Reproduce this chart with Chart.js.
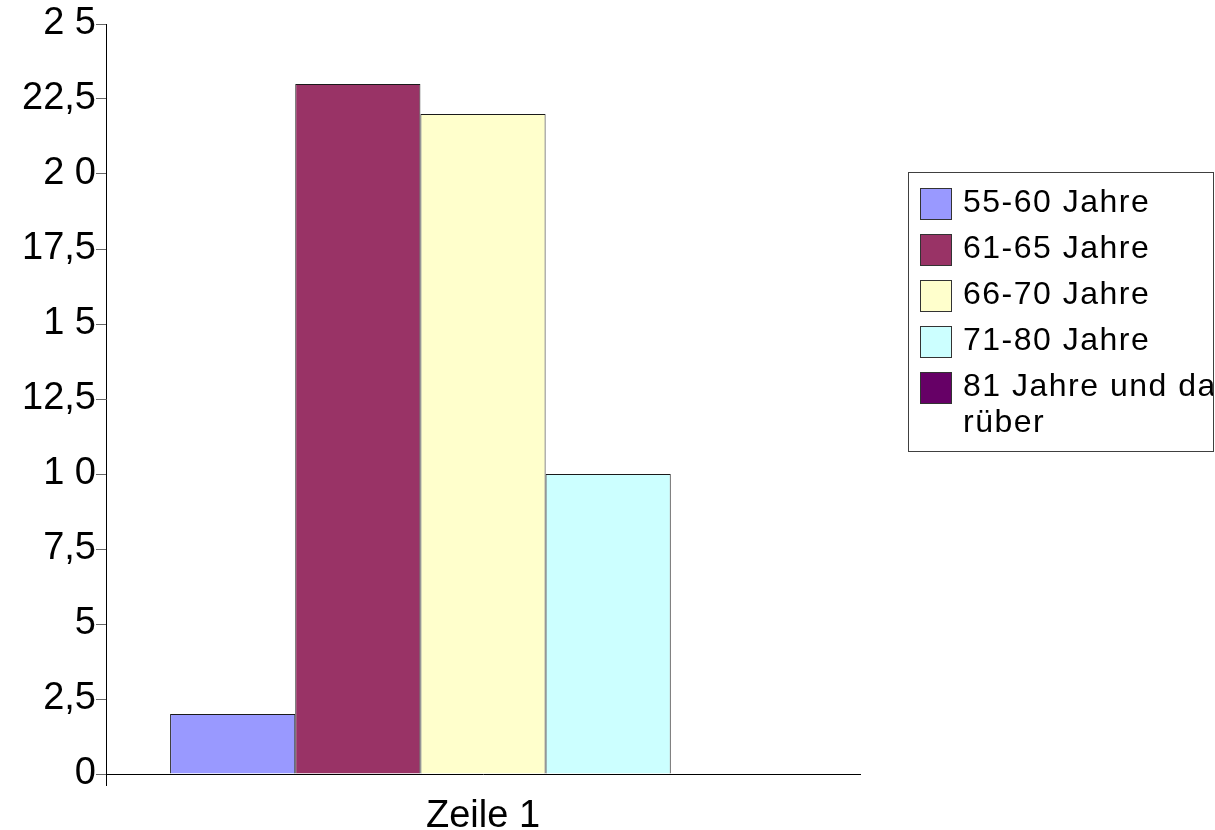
<!DOCTYPE html>
<html>
<head>
<meta charset="utf-8">
<script src="https://cdn.jsdelivr.net/npm/chart.js@4/dist/chart.umd.min.js"></script>
<style>
  html, body { margin: 0; padding: 0; background: #fff; }
  #wrap { width: 1215px; height: 830px; position: relative; }
</style>
</head>
<body>
<div id="wrap"><canvas id="c" width="1215" height="830"></canvas></div>
<script>
// ---- data ----
const categories = ["Zeile 1"];
const seriesNames = ["55-60 Jahre", "61-65 Jahre", "66-70 Jahre", "71-80 Jahre", "81 Jahre und darüber"];
const seriesValues = [[2], [23], [22], [10], [0]];
const seriesColors = ["#9999ff", "#993366", "#ffffcc", "#ccffff", "#660066"];
const yTickValues = [0, 2.5, 5, 7.5, 10, 12.5, 15, 17.5, 20, 22.5, 25];
const yTickLabels = ["0", "2,5", "5", "7,5", "1 0", "12,5", "1 5", "17,5", "2 0", "22,5", "2 5"];

const FONT = "'Liberation Sans', Arial, sans-serif";

const legendPlugin = {
  id: 'boxLegend',
  afterDraw(chart) {
    const ctx = chart.ctx;
    const bx = 908, by = 172, bw = 305, bh = 279;
    ctx.save();
    ctx.font = '32px ' + FONT;
    if ('letterSpacing' in ctx) ctx.letterSpacing = '1.5px';
    ctx.textBaseline = 'middle';
    const textX = 963;
    const maxW = bx + bw - textX + 8;
    let rowY = 203;
    const lineH = 36;
    ctx.beginPath();
    ctx.rect(bx, by, bw, bh);
    ctx.clip();
    chart.data.datasets.forEach((ds, i) => {
      ctx.fillStyle = ds.backgroundColor;
      ctx.fillRect(920, rowY - 15, 31, 31);
      ctx.strokeStyle = '#333';
      ctx.lineWidth = 1;
      ctx.strokeRect(920.5, rowY - 14.5, 31, 31);
      const words = [];
      let cur = '';
      for (const ch of ds.label) {
        if (ctx.measureText(cur + ch).width > maxW && cur.length) {
          words.push(cur);
          cur = ch;
        } else cur += ch;
      }
      words.push(cur);
      ctx.fillStyle = '#000';
      words.forEach((ln, j) => ctx.fillText(ln, textX, rowY + j * lineH));
      rowY += 46;
    });
    ctx.restore();
    ctx.save();
    ctx.strokeStyle = '#404040';
    ctx.lineWidth = 1;
    ctx.strokeRect(bx + 0.5, by + 0.5, bw, bh);
    ctx.restore();
  }
};

new Chart(document.getElementById('c'), {
  type: 'bar',
  data: {
    labels: categories,
    datasets: seriesNames.map((n, i) => ({
      label: n,
      data: seriesValues[i],
      backgroundColor: seriesColors[i],
      borderColor: '#1a1a1a',
      borderWidth: 1,
      categoryPercentage: 0.83,
      barPercentage: 1.0
    }))
  },
  options: {
    responsive: false,
    animation: false,
    layout: { padding: { top: 24, right: 355, left: 0, bottom: 0 } },
    plugins: { legend: { display: false }, tooltip: { enabled: false } },
    scales: {
      x: {
        offset: true,
        grid: {
          offset: true,
          drawOnChartArea: false,
          drawTicks: true,
          tickLength: 12,
          color: (c) => c.index === 0 ? '#000' : 'rgba(0,0,0,0)'
        },
        border: { display: true, color: '#000', width: 1 },
        ticks: { color: '#000', font: { family: FONT, size: 38 }, padding: 8 },
        afterFit(s) { s.height = 56; }
      },
      y: {
        min: 0, max: 25,
        afterBuildTicks(s) { s.ticks = yTickValues.map(v => ({ value: v })); },
        grid: { drawOnChartArea: false, drawTicks: true, tickLength: 10, color: '#666' },
        border: { display: true, color: '#000', width: 1 },
        ticks: {
          color: '#000',
          font: { family: FONT, size: 38 },
          padding: 0,
          callback: (v) => { const k = yTickValues.indexOf(v); return k >= 0 ? yTickLabels[k] : ''; }
        },
        afterFit(s) { s.width = 106; }
      }
    }
  },
  plugins: [legendPlugin]
});
</script>
</body>
</html>
